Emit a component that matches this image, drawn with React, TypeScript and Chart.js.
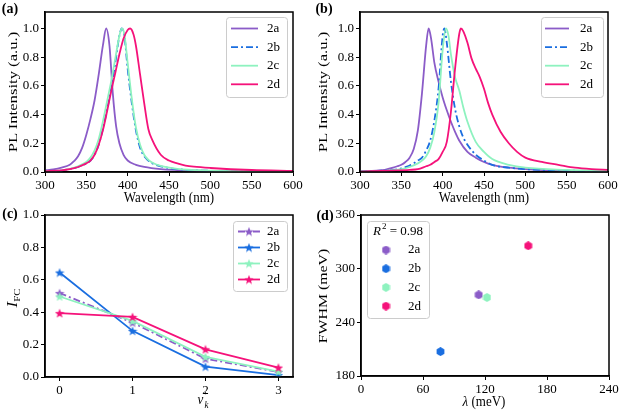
import React, { useEffect, useRef } from 'react';
import { Chart, registerables } from 'chart.js';

Chart.register(...registerables);

const FONT = '"Liberation Serif", "Times New Roman", serif';
const LABELS = ['2a', '2b', '2c', '2d'];
const COLORS = ['#8b5cc8', '#1a6ee0', '#8ef2bf', '#f5127a'];

// ---- Panel (a): computed PL spectra ----
const A_NM_2A = [300, 310, 320, 330, 335, 340, 345, 350, 355, 360, 365, 370, 374, 378, 382, 386, 390, 395, 400, 410, 420, 440, 460, 500, 550, 600];
const A_PL_2A = [0.012, 0.018, 0.03, 0.05, 0.075, 0.11, 0.17, 0.26, 0.37, 0.5, 0.68, 0.88, 1.0, 0.88, 0.55, 0.32, 0.2, 0.12, 0.08, 0.05, 0.035, 0.02, 0.014, 0.008, 0.004, 0.002];
const A_NM_2B = [300, 320, 330, 340, 350, 355, 360, 365, 370, 375, 380, 385, 390, 393, 396, 400, 405, 410, 415, 420, 425, 430, 440, 460, 500, 550, 600];
const A_PL_2B = [0.005, 0.01, 0.02, 0.035, 0.06, 0.08, 0.12, 0.19, 0.3, 0.43, 0.58, 0.76, 0.95, 1.0, 0.95, 0.72, 0.48, 0.29, 0.17, 0.11, 0.08, 0.06, 0.04, 0.02, 0.008, 0.004, 0.002];
const A_NM_2C = [300, 320, 330, 340, 350, 355, 360, 365, 370, 375, 380, 385, 390, 393, 396, 400, 405, 410, 415, 420, 425, 430, 440, 460, 500, 550, 600];
const A_PL_2C = [0.006, 0.012, 0.022, 0.04, 0.07, 0.1, 0.15, 0.23, 0.35, 0.49, 0.63, 0.79, 0.95, 1.0, 0.96, 0.76, 0.51, 0.31, 0.19, 0.12, 0.085, 0.065, 0.042, 0.022, 0.01, 0.005, 0.003];
const A_NM_2D = [300, 320, 330, 340, 350, 355, 360, 365, 370, 375, 380, 385, 390, 395, 400, 403, 407, 410, 415, 420, 425, 430, 440, 450, 460, 470, 480, 500, 550, 600];
const A_PL_2D = [0.006, 0.012, 0.02, 0.035, 0.06, 0.08, 0.12, 0.19, 0.29, 0.42, 0.56, 0.69, 0.82, 0.93, 0.99, 1.0, 0.96, 0.88, 0.68, 0.48, 0.3, 0.22, 0.12, 0.08, 0.06, 0.045, 0.037, 0.028, 0.014, 0.008];

// ---- Panel (b): measured PL spectra ----
const B_NM_2A = [300, 320, 330, 340, 345, 350, 355, 360, 365, 370, 375, 380, 383, 386, 390, 395, 400, 405, 410, 415, 420, 430, 440, 450, 460, 480, 500, 550, 600];
const B_PL_2A = [0.005, 0.01, 0.015, 0.03, 0.04, 0.05, 0.07, 0.1, 0.16, 0.29, 0.55, 0.88, 1.0, 0.93, 0.76, 0.63, 0.52, 0.43, 0.35, 0.28, 0.22, 0.14, 0.1, 0.07, 0.05, 0.03, 0.02, 0.008, 0.004];
const B_NM_2B = [300, 330, 340, 350, 355, 360, 365, 370, 375, 380, 385, 390, 395, 400, 402, 405, 410, 415, 420, 425, 430, 440, 450, 460, 480, 500, 550, 600];
const B_PL_2B = [0.004, 0.01, 0.015, 0.025, 0.035, 0.045, 0.06, 0.08, 0.1, 0.15, 0.22, 0.36, 0.58, 0.95, 1.0, 0.9, 0.63, 0.44, 0.32, 0.24, 0.19, 0.12, 0.08, 0.05, 0.03, 0.02, 0.01, 0.005];
const B_NM_2C = [300, 330, 350, 360, 370, 375, 380, 385, 390, 395, 400, 404, 407, 410, 415, 420, 425, 430, 440, 450, 460, 480, 500, 550, 600];
const B_PL_2C = [0.004, 0.008, 0.02, 0.035, 0.06, 0.08, 0.11, 0.17, 0.28, 0.48, 0.85, 1.0, 0.95, 0.82, 0.66, 0.57, 0.45, 0.35, 0.21, 0.14, 0.09, 0.05, 0.03, 0.015, 0.008];
const B_NM_2D = [300, 340, 360, 370, 380, 385, 390, 395, 400, 405, 410, 415, 420, 422, 425, 430, 435, 440, 445, 450, 455, 460, 470, 480, 490, 500, 520, 540, 560, 580, 600];
const B_PL_2D = [0.003, 0.01, 0.015, 0.02, 0.04, 0.05, 0.07, 0.09, 0.14, 0.21, 0.42, 0.72, 0.96, 1.0, 0.98, 0.9, 0.79, 0.72, 0.66, 0.58, 0.48, 0.4, 0.28, 0.2, 0.14, 0.1, 0.07, 0.05, 0.03, 0.02, 0.015];

// ---- Panel (c): Franck-Condon intensities ----
const C_V = [0, 1, 2, 3];
const C_2A = [0.518, 0.336, 0.113, 0.031];
const C_2B = [0.645, 0.285, 0.064, 0.012];
const C_2C = [0.497, 0.346, 0.124, 0.033];
const C_2D = [0.394, 0.371, 0.171, 0.058];

// ---- Panel (d): FWHM vs reorganisation energy ----
const D_LAMBDA = [113.9, 76.9, 121.9, 161.8];
const D_FWHM = [270.7, 207.3, 267.8, 325.6];

// ---- Tick values ----
const SPEC_X_TICKS = [300, 350, 400, 450, 500, 550, 600];
const SPEC_Y_TICKS = [0, 0.2, 0.4, 0.6, 0.8, 1.0];
const C_X_TICKS = [0, 1, 2, 3];
const C_Y_TICKS = [0, 0.2, 0.4, 0.6, 0.8, 1.0];
const D_X_TICKS = [0, 60, 120, 180, 240];
const D_Y_TICKS = [180, 240, 300, 360];

const DASHDOT = [7, 3, 2, 3];

function axis(pos: 'left' | 'bottom', min: number, max: number, ticks: number[], digits: number, size: number) {
  return {
    type: 'linear',
    position: pos,
    min,
    max,
    afterBuildTicks: (s: any) => {
      s.ticks = ticks.map((v) => ({ value: v }));
    },
    afterFit: (s: any) => {
      if (pos === 'left') s.width = size;
      else s.height = size;
      s.paddingLeft = 0;
      s.paddingRight = 0;
      s.paddingTop = 0;
      s.paddingBottom = 0;
    },
    ticks: {
      color: '#000',
      font: { family: FONT, size: 13 },
      padding: 2,
      maxRotation: 0,
      minRotation: 0,
      autoSkip: false,
      callback: (v: any) => Number(v).toFixed(digits),
    },
    grid: { display: true, drawOnChartArea: false, drawTicks: true, tickLength: 4, color: '#000', lineWidth: 1 },
    border: { display: true, color: '#000', width: 1.5 },
  };
}

function starCanvas(color: string, size: number) {
  const c = document.createElement('canvas');
  c.width = size;
  c.height = size;
  const g = c.getContext('2d')!;
  const r = size / 2;
  const ri = r * 0.42;
  g.beginPath();
  for (let i = 0; i < 10; i++) {
    const a = -Math.PI / 2 + (i * Math.PI) / 5;
    const rr = i % 2 ? ri : r;
    g.lineTo(r + rr * Math.cos(a), r + 0.5 + rr * Math.sin(a));
  }
  g.closePath();
  g.fillStyle = color;
  g.fill();
  return c;
}

function hexCanvas(color: string, size: number) {
  const c = document.createElement('canvas');
  c.width = size;
  c.height = size;
  const g = c.getContext('2d')!;
  const r = size / 2;
  g.beginPath();
  for (let i = 0; i < 6; i++) {
    const a = -Math.PI / 2 + (i * Math.PI) / 3;
    g.lineTo(r + r * Math.cos(a), r + r * Math.sin(a));
  }
  g.closePath();
  g.fillStyle = color;
  g.fill();
  return c;
}

const panelPlugin = {
  id: 'panel',
  afterDraw(chart: any, _args: any, opts: any) {
    const { ctx, chartArea: a } = chart;
    ctx.save();
    ctx.strokeStyle = '#000';
    ctx.lineWidth = 1.5;
    ctx.setLineDash([]);
    ctx.strokeRect(a.left, a.top, a.right - a.left, a.bottom - a.top);
    const L = opts && opts.legend;
    if (L) {
      ctx.beginPath();
      ctx.roundRect(L.x + 0.5, L.y + 0.5, L.w, L.h, 3);
      ctx.fillStyle = 'rgba(255,255,255,0.85)';
      ctx.fill();
      ctx.strokeStyle = '#cccccc';
      ctx.lineWidth = 1;
      ctx.stroke();
      ctx.textBaseline = 'middle';
      ctx.textAlign = 'left';
      if (L.title) {
        const f1 = `italic 13px ${FONT}`;
        const f2 = `9px ${FONT}`;
        const f3 = `13px ${FONT}`;
        ctx.font = f1;
        const w1 = ctx.measureText('R').width;
        ctx.font = f2;
        const w2 = ctx.measureText('2').width;
        ctx.font = f3;
        const w3 = ctx.measureText(' = 0.98').width;
        let x = L.titleX - (w1 + w2 + 1 + w3) / 2;
        ctx.fillStyle = '#000';
        ctx.font = f1;
        ctx.fillText('R', x, L.titleY);
        x += w1 + 1;
        ctx.font = f2;
        ctx.fillText('2', x, L.titleY - 5);
        x += w2;
        ctx.font = f3;
        ctx.fillText(' = 0.98', x, L.titleY);
      }
      ctx.font = `13px ${FONT}`;
      chart.data.datasets.forEach((ds: any, i: number) => {
        const yy = L.firstY + i * L.step;
        if (L.lineX0 != null) {
          ctx.setLineDash(ds.borderDash || []);
          ctx.strokeStyle = ds.borderColor;
          ctx.lineWidth = ds.borderWidth;
          ctx.beginPath();
          ctx.moveTo(L.lineX0, yy);
          ctx.lineTo(L.lineX1, yy);
          ctx.stroke();
          ctx.setLineDash([]);
        }
        if (L.markerX != null && ds.pointStyle && ds.pointStyle.width) {
          const img = ds.pointStyle;
          ctx.drawImage(img, L.markerX - img.width / 2, yy - img.height / 2);
        }
        ctx.fillStyle = '#000';
        ctx.fillText(ds.label, L.textX, yy);
      });
    }
    ctx.restore();
  },
};

function spectrum(i: number, nm: number[], pl: number[]) {
  return {
    label: LABELS[i],
    data: nm.map((x, k) => ({ x, y: pl[k] })),
    borderColor: COLORS[i],
    backgroundColor: COLORS[i],
    borderWidth: 1.8,
    borderDash: i === 1 ? DASHDOT : [],
    pointRadius: 0,
    cubicInterpolationMode: 'monotone',
    fill: false,
    order: 3 - i,
  };
}

function baseOptions(padding: any, scales: any, legend: any) {
  return {
    responsive: false,
    animation: false,
    devicePixelRatio: 1,
    layout: { padding },
    scales,
    plugins: { legend: { display: false }, tooltip: { enabled: false }, panel: { legend } },
    events: [],
  };
}

function buildA() {
  return {
    type: 'line',
    data: {
      datasets: [
        spectrum(0, A_NM_2A, A_PL_2A),
        spectrum(1, A_NM_2B, A_PL_2B),
        spectrum(2, A_NM_2C, A_PL_2C),
        spectrum(3, A_NM_2D, A_PL_2D),
      ],
    },
    options: baseOptions(
      { left: 0, top: 12, right: 17, bottom: 0 },
      { x: axis('bottom', 300, 600, SPEC_X_TICKS, 0, 34), y: axis('left', 0, 1.115, SPEC_Y_TICKS, 1, 45) },
      { x: 226, y: 17, w: 61, h: 80, firstY: 28.5, step: 18.6, lineX0: 231, lineX1: 258, textX: 267 }
    ),
    plugins: [panelPlugin],
  };
}

function buildB() {
  return {
    type: 'line',
    data: {
      datasets: [
        spectrum(0, B_NM_2A, B_PL_2A),
        spectrum(1, B_NM_2B, B_PL_2B),
        spectrum(2, B_NM_2C, B_PL_2C),
        spectrum(3, B_NM_2D, B_PL_2D),
      ],
    },
    options: baseOptions(
      { left: 0, top: 12, right: 12, bottom: 0 },
      { x: axis('bottom', 300, 600, SPEC_X_TICKS, 0, 34), y: axis('left', 0, 1.115, SPEC_Y_TICKS, 1, 50) },
      { x: 231, y: 17, w: 62, h: 80, firstY: 28.5, step: 18.6, lineX0: 235, lineX1: 259, textX: 270 }
    ),
    plugins: [panelPlugin],
  };
}

function buildC() {
  const series = [C_2A, C_2B, C_2C, C_2D];
  return {
    type: 'line',
    data: {
      datasets: series.map((vals, i) => ({
        label: LABELS[i],
        data: C_V.map((x, k) => ({ x, y: vals[k] })),
        borderColor: COLORS[i],
        backgroundColor: COLORS[i],
        borderWidth: 1.8,
        borderDash: i === 0 ? DASHDOT : [],
        pointStyle: starCanvas(COLORS[i], 10),
        pointRadius: 5,
        tension: 0,
        fill: false,
        order: 3 - i,
      })),
    },
    options: baseOptions(
      { left: 0, top: 9, right: 17, bottom: 0 },
      { x: axis('bottom', -0.2, 3.2, C_X_TICKS, 0, 36), y: axis('left', 0, 1.0, C_Y_TICKS, 1, 45) },
      { x: 233, y: 15, w: 54, h: 70, firstY: 25.5, step: 16, lineX0: 238, lineX1: 260, markerX: 249, textX: 267 }
    ),
    plugins: [panelPlugin],
  };
}

function buildD() {
  return {
    type: 'scatter',
    data: {
      datasets: D_LAMBDA.map((x, i) => ({
        label: LABELS[i],
        data: [{ x, y: D_FWHM[i] }],
        borderColor: COLORS[i],
        backgroundColor: COLORS[i],
        pointStyle: hexCanvas(COLORS[i], 9),
        pointRadius: 5,
        showLine: false,
        order: 3 - i,
      })),
    },
    options: baseOptions(
      { left: 0, top: 9, right: 11, bottom: 0 },
      { x: axis('bottom', 0, 240, D_X_TICKS, 0, 37), y: axis('left', 180, 360, D_Y_TICKS, 0, 51) },
      { x: 57, y: 15, w: 62, h: 97, title: true, titleX: 88, titleY: 26, firstY: 44, step: 18.7, markerX: 76, textX: 98 }
    ),
    plugins: [panelPlugin],
  };
}

function ChartPanel({ left, top, width, height, build }: any) {
  const ref = useRef<HTMLCanvasElement>(null);
  useEffect(() => {
    const chart = new Chart(ref.current as HTMLCanvasElement, build() as any);
    return () => chart.destroy();
  }, []);
  return <canvas ref={ref} width={width} height={height} style={{ position: 'absolute', left, top, width, height }} />;
}

function Txt({ cx, cy, rot, stretch = 1.2, size = 13, bold, children }: any) {
  const tf = rot
    ? `translate(-50%, -50%) rotate(-90deg) scaleX(${stretch})`
    : `translate(-50%, -50%) scaleY(${stretch})`;
  return (
    <div
      style={{
        position: 'absolute',
        left: cx,
        top: cy,
        transform: tf,
        whiteSpace: 'nowrap',
        fontFamily: FONT,
        fontSize: size,
        fontWeight: bold ? 'bold' : 'normal',
        lineHeight: 1,
        color: '#000',
      }}
    >
      {children}
    </div>
  );
}

export default function App() {
  return (
    <div style={{ position: 'absolute', left: 0, top: 0, width: 620, height: 413, background: '#fff', overflow: 'hidden' }}>
      <ChartPanel left={0} top={0} width={310} height={206} build={buildA} />
      <ChartPanel left={310} top={0} width={310} height={206} build={buildB} />
      <ChartPanel left={0} top={206} width={310} height={207} build={buildC} />
      <ChartPanel left={310} top={206} width={310} height={207} build={buildD} />

      <Txt cx={10} cy={9} bold size={14} stretch={1.1}>(a)</Txt>
      <Txt cx={324} cy={9} bold size={14} stretch={1.1}>(b)</Txt>
      <Txt cx={10} cy={214} bold size={14} stretch={1.1}>(c)</Txt>
      <Txt cx={325} cy={216} bold size={14} stretch={1.1}>(d)</Txt>

      <Txt cx={12} cy={92} rot stretch={1.28}>PL Intensity (a.u.)</Txt>
      <Txt cx={169} cy={197}>Wavelength (nm)</Txt>
      <Txt cx={322} cy={92} rot stretch={1.28}>PL Intensity (a.u.)</Txt>
      <Txt cx={484} cy={197}>Wavelength (nm)</Txt>

      <Txt cx={13} cy={298} rot stretch={1.2}>
        <i style={{ fontSize: 14 }}>I</i>
        <span style={{ fontSize: 9, position: 'relative', top: 3 }}>FC</span>
      </Txt>
      <Txt cx={203} cy={400}>
        <i>v</i>
        <span style={{ display: 'inline-block', verticalAlign: 'middle', lineHeight: 0.8, fontSize: 9, marginLeft: 1 }}>
          <span style={{ display: 'block' }}>′</span>
          <i style={{ display: 'block' }}>k</i>
        </span>
      </Txt>

      <Txt cx={322} cy={296} rot stretch={1.22}>FWHM (meV)</Txt>
      <Txt cx={484} cy={401}>
        <i>λ</i> (meV)
      </Txt>
    </div>
  );
}
